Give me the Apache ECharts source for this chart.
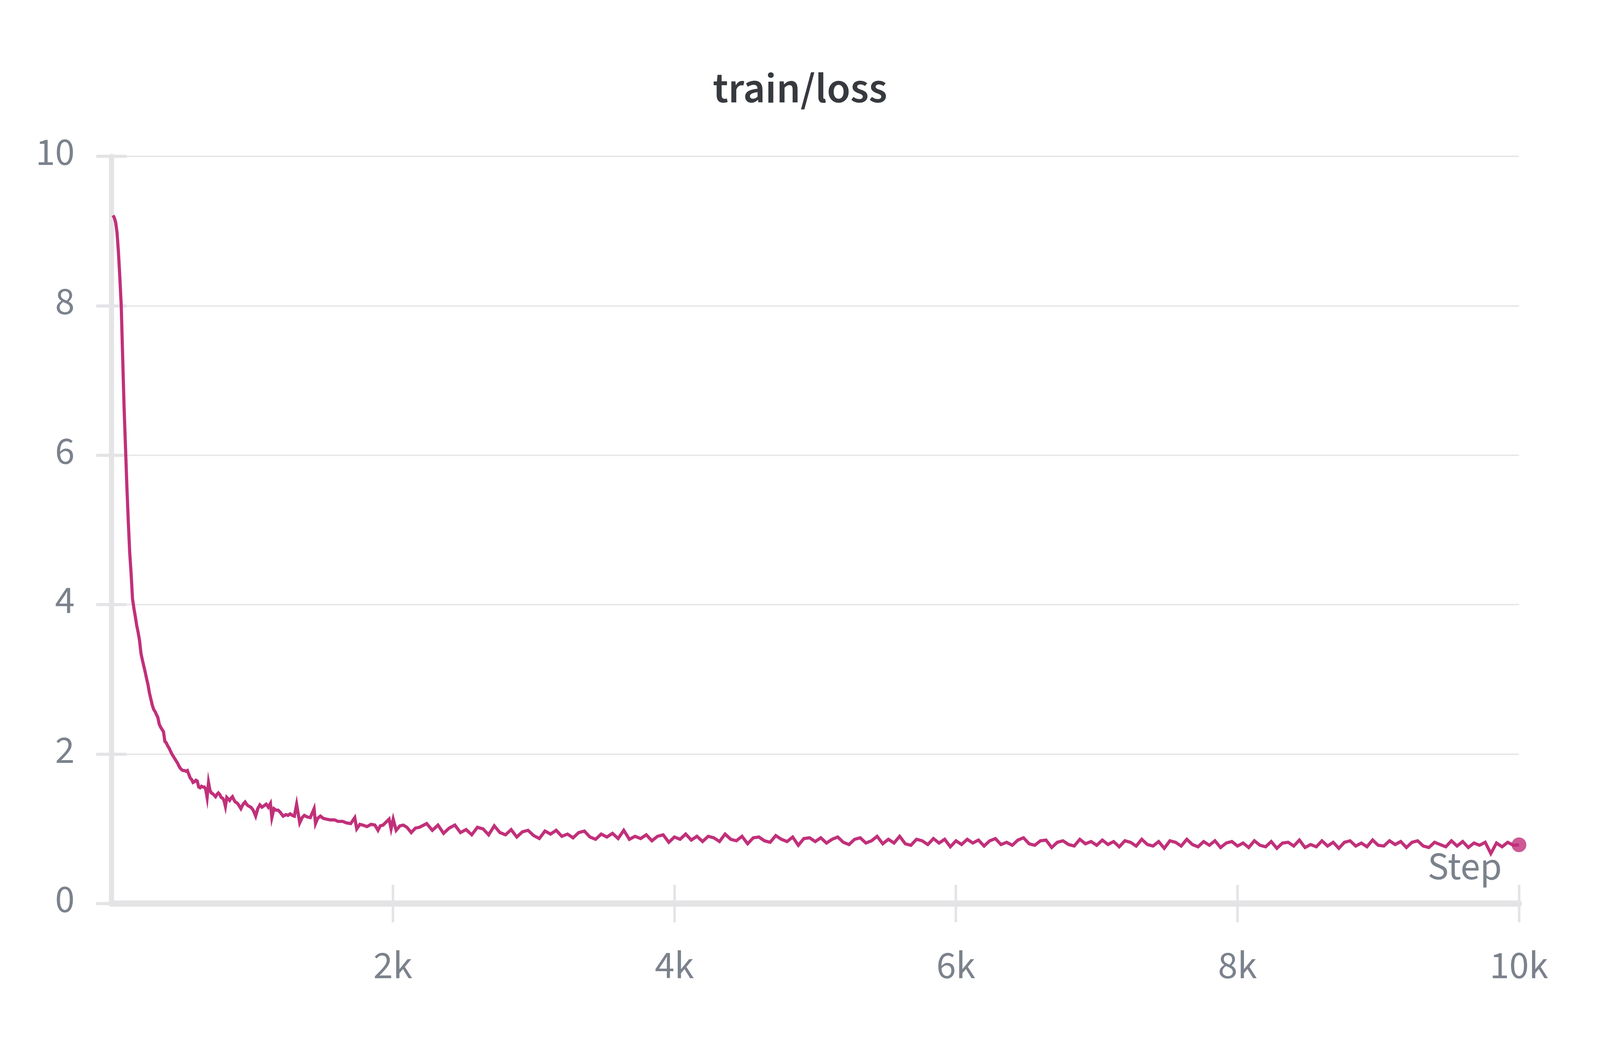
<!DOCTYPE html>
<html>
<head>
<meta charset="utf-8">
<script src="https://cdn.jsdelivr.net/npm/echarts@6/dist/echarts.min.js"></script>
<style>
html,body{margin:0;padding:0;background:#fff;overflow:hidden;}
#chart{width:100vw;height:100vh;}
</style>
</head>
<body>
<div id="chart"></div>
<script>
// ---------- data ----------
const chartTitle = 'train/loss';
const xAxisName = 'Step';
const xTickValues = [2000, 4000, 6000, 8000, 10000];
const yTickValues = [0, 2, 4, 6, 8, 10];

const steps = [
  12,20,30,40,50,60,70,80,90,100,110,120,130,140,150,160,170,180,190,200,
  210,220,230,240,250,260,270,280,290,300,310,320,330,340,350,360,370,380,390,400,
  410,420,430,440,450,460,470,480,490,500,510,520,530,540,550,560,570,580,590,600,
  610,620,630,640,650,660,670,680,690,700,710,720,730,740,750,760,770,780,790,800,
  810,820,830,840,850,860,870,880,890,900,910,920,930,940,950,960,970,980,990,1000,
  1010,1025,1040,1055,1070,1085,1100,1115,1130,1140,1155,1170,1185,1200,1220,1240,1255,1270,1285,1300,
  1316,1338,1355,1371,1390,1413,1440,1450,1465,1485,1505,1528,1555,1585,1610,1643,1670,1700,1729,1743,
  1765,1786,1815,1845,1872,1894,1910,1930,1973,1987,2002,2023,2050,2074,2100,2130,2160,2188,
  2240,2280,2320,2360,2400,2440,2480,2520,2560,2600,2640,2680,2720,2760,2800,2840,2880,2920,2960,3000,
  3040,3080,3120,3160,3200,3240,3280,3320,3360,3400,3440,3480,3520,3560,3600,3640,3680,3720,3760,3800,3840,3880,3920,3960,4000,
  4040,4080,4120,4160,4200,4240,4280,4320,4360,4400,4440,4480,4520,4560,4600,4640,4680,4720,4760,4800,4840,4880,4920,4960,5000,
  5040,5080,5120,5160,5200,5240,5280,5320,5360,5400,5440,5480,5520,5560,5600,5640,5680,5720,5760,5800,5840,5880,5920,5960,6000,
  6040,6080,6120,6160,6200,6240,6280,6320,6360,6400,6440,6480,6520,6560,6600,6640,6680,6720,6760,6800,6840,6880,6920,6960,7000,
  7040,7080,7120,7160,7200,7240,7280,7320,7360,7400,7440,7480,7520,7560,7600,7640,7680,7720,7760,7800,7840,7880,7920,7960,8000,
  8040,8080,8120,8160,8200,8240,8280,8320,8360,8400,8440,8480,8520,8560,8600,8640,8680,8720,8760,8800,8840,8880,8920,8960,9000,
  9040,9080,9120,9160,9200,9240,9280,9320,9360,9400,9440,9480,9520,9560,9600,9640,9680,9720,9760,9800,9840,9880,9920,9960,10000
];

const loss = [
  9.21,9.18,9.12,8.98,8.72,8.38,8.00,7.32,6.65,6.12,5.58,5.12,4.70,4.42,4.08,3.95,3.84,3.72,3.63,3.52,
  3.35,3.26,3.18,3.10,3.01,2.93,2.82,2.74,2.66,2.60,2.57,2.53,2.49,2.40,2.36,2.33,2.30,2.17,2.15,2.11,
  2.08,2.04,2.00,1.97,1.94,1.91,1.88,1.84,1.81,1.79,1.78,1.78,1.77,1.78,1.73,1.68,1.66,1.62,1.63,1.65,
  1.64,1.56,1.55,1.57,1.56,1.56,1.53,1.42,1.62,1.52,1.48,1.47,1.45,1.43,1.46,1.48,1.46,1.42,1.41,1.38,
  1.30,1.42,1.40,1.38,1.41,1.43,1.39,1.36,1.35,1.33,1.30,1.27,1.31,1.34,1.36,1.33,1.31,1.30,1.29,1.27,
  1.24,1.17,1.27,1.32,1.29,1.31,1.33,1.29,1.34,1.15,1.27,1.25,1.25,1.22,1.17,1.19,1.18,1.20,1.18,1.17,
  1.33,1.08,1.15,1.18,1.16,1.15,1.27,1.07,1.14,1.17,1.14,1.13,1.12,1.12,1.10,1.10,1.08,1.07,1.15,1.00,
  1.06,1.05,1.03,1.06,1.05,0.98,1.04,1.05,1.13,1.00,1.13,0.98,1.04,1.05,1.02,0.95,1.01,1.02,
  1.07,0.98,1.05,0.94,1.01,1.05,0.95,0.99,0.92,1.02,1.00,0.92,1.04,0.95,0.92,0.99,0.89,0.96,0.98,0.91,
  0.87,0.97,0.93,0.98,0.90,0.93,0.88,0.95,0.97,0.89,0.86,0.93,0.89,0.94,0.87,0.98,0.86,0.90,0.87,0.92,0.84,0.90,0.92,0.82,0.89,
  0.86,0.93,0.85,0.90,0.83,0.90,0.88,0.83,0.93,0.86,0.84,0.90,0.80,0.88,0.89,0.84,0.82,0.91,0.86,0.83,0.89,0.78,0.87,0.88,0.83,
  0.88,0.81,0.86,0.89,0.82,0.79,0.86,0.88,0.81,0.84,0.90,0.80,0.86,0.81,0.90,0.80,0.78,0.86,0.84,0.79,0.87,0.81,0.86,0.76,0.84,
  0.79,0.86,0.81,0.85,0.77,0.84,0.87,0.79,0.82,0.78,0.85,0.88,0.80,0.78,0.84,0.85,0.75,0.82,0.84,0.79,0.77,0.86,0.80,0.83,0.78,
  0.85,0.79,0.83,0.76,0.84,0.82,0.77,0.86,0.79,0.77,0.83,0.74,0.84,0.82,0.77,0.86,0.79,0.76,0.83,0.78,0.84,0.75,0.81,0.83,0.77,
  0.81,0.75,0.84,0.78,0.76,0.83,0.74,0.81,0.82,0.77,0.85,0.75,0.79,0.76,0.84,0.77,0.82,0.74,0.82,0.84,0.77,0.81,0.76,0.85,0.78,
  0.77,0.84,0.79,0.83,0.75,0.82,0.84,0.77,0.75,0.82,0.79,0.76,0.84,0.77,0.83,0.75,0.81,0.78,0.82,0.67,0.81,0.76,0.82,0.78,0.786
];

// ---------- styling ----------
const FONT = "'Source Sans Pro','Source Sans 3',Lato,'Noto Sans',sans-serif";
const LINE_COLOR = '#c1307a';
const AXIS_COLOR = '#e4e4e7';
const GRID_COLOR = '#e8e8eb';
const LABEL_COLOR = '#7b828c';
const TITLE_COLOR = '#36393e';

// layout was measured on a 5056x2656 picture; map it onto the real viewport
const VW = window.innerWidth || 5056;
const VH = window.innerHeight || 2656;
const SX = VW / 5056;
const SY = VH / 2656;
const SF = Math.sqrt(SX * SY);
const px = v => v * SX;   // horizontal distances
const py = v => v * SY;   // vertical distances
const pf = v => v * SF;   // font sizes / stroke widths

const lineData = steps.map((s, i) => [s, loss[i]]);
const lastPoint = [[steps[steps.length - 1], loss[loss.length - 1]]];

const chart = echarts.init(document.getElementById('chart'), null, {renderer: 'canvas'});

const xCommon = {
  type: 'value', min: 0, max: 10000, interval: 2000, position: 'bottom',
  splitLine: {show: false}
};
const yCommon = {
  type: 'value', min: 0, max: 10, interval: 2, position: 'left'
};

chart.setOption({
  animation: false,
  backgroundColor: '#ffffff',
  title: {
    text: chartTitle,
    left: 'center',
    top: py(178),
    textStyle: {fontFamily: FONT, fontSize: pf(122), fontWeight: 600, color: TITLE_COLOR}
  },
  grid: {left: px(352), right: px(256), top: py(400), bottom: py(344), containLabel: false},
  xAxis: [
    Object.assign({}, xCommon, {
      name: xAxisName,
      nameLocation: 'end',
      nameGap: -px(54),
      nameTextStyle: {
        fontFamily: FONT, fontSize: pf(112), color: LABEL_COLOR,
        align: 'right', verticalAlign: 'bottom', padding: [0, 0, py(34), 0]
      },
      axisLine: {show: true, lineStyle: {color: AXIS_COLOR, width: py(16)}},
      axisTick: {show: true, inside: false, length: py(48), customValues: xTickValues,
                 lineStyle: {color: AXIS_COLOR, width: px(8)}},
      axisLabel: {show: true, customValues: xTickValues, margin: py(118),
                  fontFamily: FONT, fontSize: pf(112), color: LABEL_COLOR,
                  formatter: v => (v / 1000) + 'k'}
    }),
    Object.assign({}, xCommon, {
      axisLine: {show: false},
      axisTick: {show: true, inside: true, length: py(48), customValues: xTickValues,
                 lineStyle: {color: AXIS_COLOR, width: px(8)}},
      axisLabel: {show: false}
    })
  ],
  yAxis: [
    Object.assign({}, yCommon, {
      axisLine: {show: true, lineStyle: {color: AXIS_COLOR, width: px(16)}},
      axisTick: {show: true, inside: false, length: px(48), customValues: yTickValues,
                 lineStyle: {color: AXIS_COLOR, width: py(8)}},
      axisLabel: {show: true, customValues: yTickValues, margin: px(116),
                  fontFamily: FONT, fontSize: pf(112), color: LABEL_COLOR},
      splitLine: {show: true, lineStyle: {color: GRID_COLOR, width: py(4)}}
    }),
    Object.assign({}, yCommon, {
      axisLine: {show: false},
      axisTick: {show: true, inside: true, length: px(48), customValues: yTickValues,
                 lineStyle: {color: AXIS_COLOR, width: py(8)}},
      axisLabel: {show: false},
      splitLine: {show: false}
    })
  ],
  series: [
    {
      type: 'line',
      name: chartTitle,
      xAxisIndex: 0, yAxisIndex: 0,
      data: lineData,
      showSymbol: false,
      symbol: 'none',
      smooth: false,
      lineStyle: {color: LINE_COLOR, width: pf(9), join: 'miter'},
      z: 5
    },
    {
      type: 'scatter',
      xAxisIndex: 0, yAxisIndex: 0,
      data: lastPoint,
      symbol: 'circle',
      symbolSize: pf(42),
      itemStyle: {color: LINE_COLOR},
      z: 6
    }
  ]
});
window.addEventListener('resize', () => chart.resize());
</script>
</body>
</html>
